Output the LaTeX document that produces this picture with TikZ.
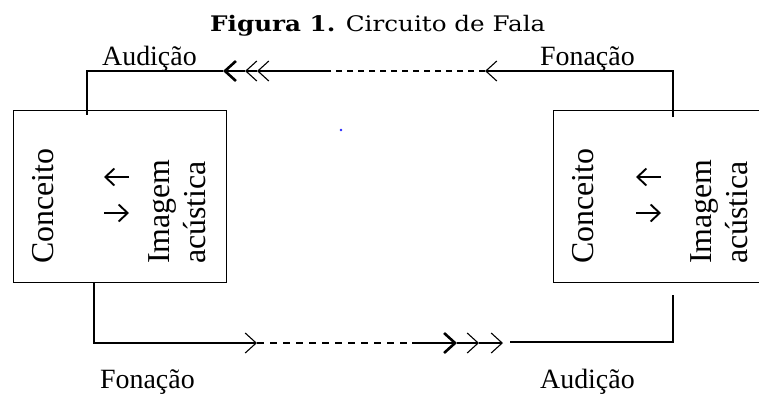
\documentclass[tikz,border=0pt]{standalone}
\usepackage{fontspec}
\setmainfont{Liberation Serif}
\newfontfamily\titlefont{DejaVu Serif}
\usetikzlibrary{arrows.meta}
\begin{document}
\begin{tikzpicture}[x=1bp,y=-1bp,
  ln/.style={line width=1.1bp},
  thickln/.style={line width=2.6bp},
  chev/.style={-{Straight Barb[length=11bp,width=20bp]}},
  inarr/.style={line width=1.9bp,-{Straight Barb[length=9bp,width=17bp]}},
  dashln/.style={ln,dash pattern=on 6bp off 5bp},
  boxstyle/.style={draw,ln,anchor=north west,inner sep=0pt},
  boxtext/.style={rotate=90,anchor=base west,inner sep=0pt,font=\fontsize{32}{36}\selectfont},
  label/.style={anchor=base west,inner sep=0pt,font=\fontsize{28}{32}\selectfont}
]
\clip (0,0) rectangle (759,398);
\fill[white] (0,0) rectangle (759,398);

% title
\node[anchor=base west,inner sep=0pt,xscale=1.15,transform shape,font=\titlefont\fontsize{21.5}{24}\selectfont] (title) at (210,31) {\textbf{Figura 1.} Circuito de Fala};

% boxes
\node[boxstyle,minimum width=213bp,minimum height=172bp] (lbox) at (13,110) {};
\node[boxstyle,minimum width=215bp,minimum height=172bp] (rbox) at (553,110) {};

% left box contents
\node[boxtext] (lcon) at (53,264) {Conceito};
\node[boxtext] (limg) at (169,264) {Imagem};
\node[boxtext] (laco) at (205,264) {acústica};
\coordinate (la1s) at (129,177); \coordinate (la1e) at (104,177);
\coordinate (la2s) at (104,213); \coordinate (la2e) at (129,213);
\draw[inarr] (la1s) -- (la1e);
\draw[inarr] (la2s) -- (la2e);

% right box contents
\node[boxtext] (rcon) at (593,264) {Conceito};
\node[boxtext] (rimg) at (711,264) {Imagem};
\node[boxtext] (raco) at (747,264) {acústica};
\coordinate (ra1s) at (661,177); \coordinate (ra1e) at (636,177);
\coordinate (ra2s) at (636,213); \coordinate (ra2e) at (661,213);
\draw[inarr] (ra1s) -- (ra1e);
\draw[inarr] (ra2s) -- (ra2e);

% labels
\node[label] (audtop) at (102,65) {Audição};
\node[label] (fontop) at (540,65) {Fonação};
\node[label] (fonbot) at (100,388) {Fonação};
\node[label] (audbot) at (540,388) {Audição};

% stray dot
\node[circle,fill=blue!85,inner sep=0pt,minimum size=2.6bp] (dot) at (341,130) {};

% top connector (right to left)
\coordinate (tA) at (87,115);
\coordinate (tB) at (87,71);
\coordinate (c1) at (223,71);
\coordinate (c2) at (245,71);
\coordinate (c3) at (257,71);
\coordinate (tC) at (325,71);
\coordinate (tD) at (485,71);
\coordinate (tE) at (673,71);
\coordinate (tF) at (673,117);
\draw[ln,chev] (tF) -- (tE) -- (tD);
\draw[dashln] (tD) -- (tC);
\draw[ln,chev] (tC) -- (c3);
\draw[ln,chev] (c3) -- (c2);
\draw[thickln,chev] (c2) -- (c1);
\draw[ln] (c1) -- (tB) -- (tA);

% bottom connector (left to right)
\coordinate (bA) at (94,282);
\coordinate (bB) at (94,343);
\coordinate (bC) at (257,343);
\coordinate (bD) at (412,343);
\coordinate (bE) at (457,343);
\coordinate (bF) at (479,343);
\coordinate (bG) at (503,343);
\coordinate (bH) at (510,342);
\coordinate (bI) at (673,342);
\coordinate (bJ) at (673,295);
\draw[ln,chev] (bA) -- (bB) -- (bC);
\draw[dashln,dash pattern=on 7bp off 6bp] (bC) -- (bD);
\draw[thickln,chev] (bD) -- (bE);
\draw[ln,chev] (bE) -- (bF);
\draw[ln,chev] (bF) -- (bG);
\draw[ln] (bH) -- (bI) -- (bJ);
\end{tikzpicture}
\end{document}
